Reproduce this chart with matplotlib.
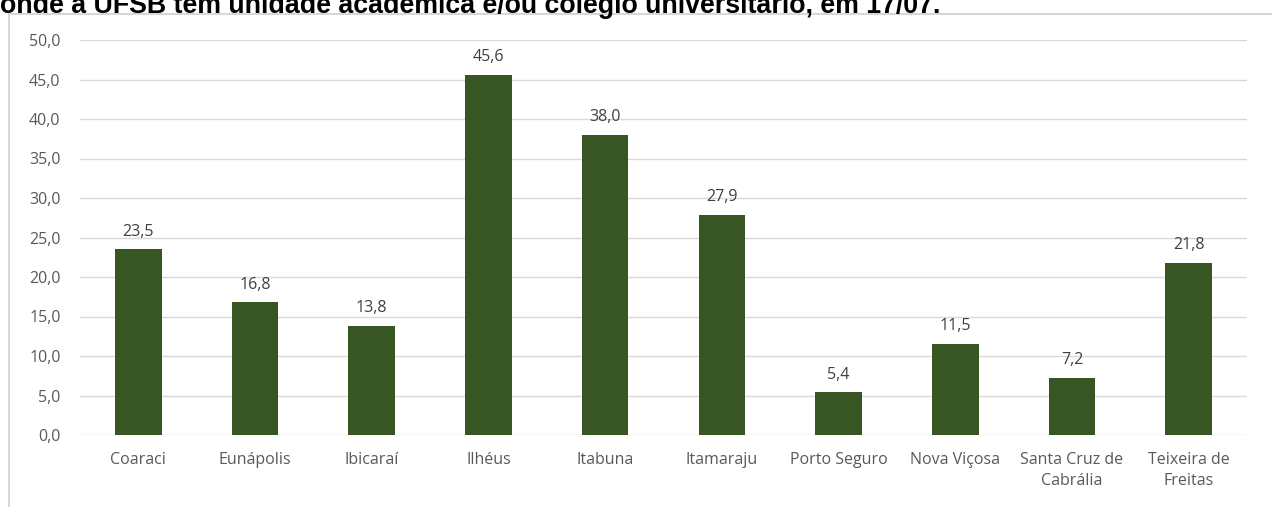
import matplotlib
matplotlib.use("Agg")
import matplotlib.pyplot as plt
from matplotlib.patches import Rectangle

cidades = ["Coaraci", "Eunápolis", "Ibicaraí", "Ilhéus", "Itabuna", "Itamaraju",
           "Porto Seguro", "Nova Viçosa", "Santa Cruz de\nCabrália", "Teixeira de\nFreitas"]
valores = [23.5, 16.8, 13.8, 45.6, 38.0, 27.9, 5.4, 11.5, 7.2, 21.8]
y_ticks = [0, 5, 10, 15, 20, 25, 30, 35, 40, 45, 50]

plt.rcParams['font.family'] = ['Open Sans', 'DejaVu Sans']

W, H = 1272, 507
fig = plt.figure(figsize=(W / 100, H / 100), dpi=100)

# moldura do gráfico (cortada à direita e embaixo)
fig.patches.append(Rectangle((9 / W, -0.1), 1.2, (H - 14) / H + 0.1,
                             transform=fig.transFigure, fill=False,
                             edgecolor="#d0d0d0", linewidth=1.2))

# título cortado no topo
fig.text(0.0, 1 - 13 / H, "onde a UFSB tem unidade acadêmica e/ou colégio universitário, em 17/07.",
         family="Liberation Sans", fontweight="bold", fontsize=19.3, color="black",
         ha="left", va="baseline")

ax = fig.add_axes([80 / W, 1 - 435 / H, (1247 - 80) / W, (435 - 40) / H])
x = list(range(len(cidades)))
ax.bar(x, valores, width=0.4, color="#375623", zorder=3)

for xi, v in zip(x, valores):
    ax.annotate(f"{v:.1f}".replace(".", ","), (xi, v), xytext=(0, 7),
                textcoords="offset points", ha="center", va="bottom",
                fontsize=11.5, color="#404040")

ax.set_xlim(-0.5, len(cidades) - 0.5)
ax.set_ylim(0, 50)
ax.set_yticks(y_ticks)
ax.set_yticklabels([f"{t:.1f}".replace(".", ",") for t in y_ticks])
ax.set_xticks(x)
ax.set_xticklabels(cidades, linespacing=1.45)
ax.tick_params(axis="both", length=0, labelsize=11.5, colors="#595959")
ax.tick_params(axis="x", pad=12)
ax.tick_params(axis="y", pad=14)
ax.grid(axis="y", color="#d9d9d9", linewidth=1, zorder=0)
for s in ax.spines.values():
    s.set_visible(False)

fig.savefig("out.png", dpi=100)
